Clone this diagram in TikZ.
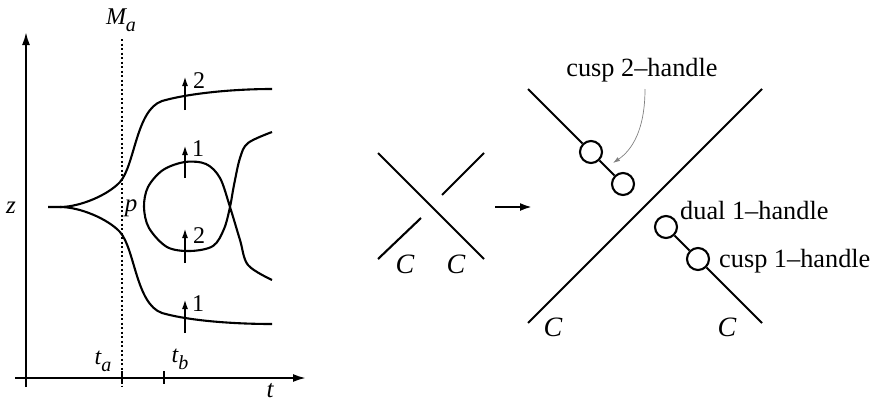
\documentclass[tikz,border=0pt]{standalone}
\usepackage{fontspec}
\setmainfont{Liberation Serif}
\usetikzlibrary{arrows.meta}
\newcommand\lowsub[2]{{\itshape #1}\raisebox{-0.28em}{\fontsize{20}{20}\selectfont\itshape #2}}
\tikzset{
  curve/.style={line width=2.1pt},
  axis/.style={line width=2.1pt,-{Latex[length=13pt,width=8pt]}},
  uparrow/.style={line width=1.9pt,-{Latex[length=10pt,width=6pt]}},
  lab/.style={inner sep=0pt,font=\fontsize{24}{24}\selectfont},
  ilab/.style={inner sep=0pt,font=\fontsize{25}{25}\selectfont\itshape},
  big/.style={inner sep=0pt,font=\fontsize{26.3}{26}\selectfont},
  clab/.style={inner sep=0pt,font=\fontsize{28}{28}\selectfont\itshape},
  hc/.style={circle,draw,line width=2.1pt,fill=white,minimum size=22pt,inner sep=0pt},
}
\begin{document}
\begin{tikzpicture}[x=1pt,y=-1pt]
\useasboundingbox (0,0) rectangle (875,402);
% ---------- left panel ----------
\coordinate (zb) at (26,387); \coordinate (zt) at (26,32);
\coordinate (tl) at (15,378); \coordinate (tr) at (306,378);
\draw[axis] (zb) -- (zt);
\draw[axis] (tl) -- (tr);
\coordinate (da) at (122,39); \coordinate (db) at (122,387);
\draw[line width=2pt,dash pattern=on 2pt off 2.5pt] (da) -- (db);
\coordinate (tb1) at (164,371); \coordinate (tb2) at (164,384);
\draw[line width=1.6pt] (tb1) -- (tb2);
\coordinate (ta1) at (122,371); \coordinate (ta2) at (122,384);
\draw[line width=1.6pt] (ta1) -- (ta2);
\node[lab] (Ma) at (121,20) {\lowsub{M}{a}};
\node[lab] (ta) at (103,361) {\lowsub{t}{a}};
\node[lab] (tbl) at (180,359) {\lowsub{t}{b}};
\node[ilab] (t) at (270,391) {t};
\node[ilab] (z) at (11,208) {z};
\node[ilab] (p) at (131,208) {p};
% cusp branches
\draw[curve] (48,207) -- (60,207) .. controls (80,207) and (108,195) .. (120,182)
  .. controls (135,165) and (136,110) .. (162,101) .. controls (190,93) and (235,89) .. (272,89);
\draw[curve] (60,207) .. controls (80,207) and (108,219) .. (120,232)
  .. controls (135,249) and (136,304) .. (162,313) .. controls (190,321) and (235,324) .. (272,324);
% swallowtail loop
\draw[curve] plot[smooth,tension=0.55] coordinates {(272,132) (248,143) (240,158) (234,185) (230,207) (224,229) (213,246) (190,251) (167,247) (149,228) (144,207) (148,187) (163,170) (185,162) (206,164) (220,178) (230,207) (240,240) (248,265) (272,280)};
% arrows
\coordinate (a1s) at (185,110); \coordinate (a1e) at (185,76);
\coordinate (a2s) at (185,178); \coordinate (a2e) at (185,145);
\coordinate (a3s) at (185,263); \coordinate (a3e) at (185,228);
\coordinate (a4s) at (185,333); \coordinate (a4e) at (185,299);
\draw[uparrow] (a1s) -- (a1e);
\draw[uparrow] (a2s) -- (a2e);
\draw[uparrow] (a3s) -- (a3e);
\draw[uparrow] (a4s) -- (a4e);
\node[lab] (n1) at (199,81) {2};
\node[lab] (n2) at (198,149) {1};
\node[lab] (n3) at (199,236) {2};
\node[lab] (n4) at (198,304) {1};
% ---------- small crossing ----------
\coordinate (s1) at (378,153); \coordinate (s2) at (484,259);
\coordinate (s3) at (484,153); \coordinate (s4) at (442,195);
\coordinate (s5) at (421,218); \coordinate (s6) at (378,259);
\draw[curve] (s1) -- (s2);
\draw[curve] (s3) -- (s4);
\draw[curve] (s5) -- (s6);
\node[clab] (C1) at (405,264) {C};
\node[clab] (C2) at (456,264) {C};
\coordinate (ar1) at (495,207); \coordinate (ar2) at (532,207);
\draw[line width=2.1pt,-{Latex[length=12pt,width=8pt]}] (ar1) -- (ar2);
% ---------- big picture ----------
\coordinate (L1) at (528,323); \coordinate (L2) at (762,89);
\draw[curve] (L1) -- (L2);
\coordinate (ul) at (528,89);
\coordinate (lr) at (762,323);
\node[hc] (c1) at (591,152) {};
\node[hc] (c2) at (623,184) {};
\node[hc] (c3) at (666,227) {};
\node[hc] (c4) at (698,259) {};
\draw[curve] (ul) -- (c1);
\draw[curve] (c1) -- (c2);
\draw[curve] (c3) -- (c4);
\draw[curve] (c4) -- (lr);
\node[clab] (C3) at (553,327) {C};
\node[clab] (C4) at (727,327) {C};
\node[big] (h2) at (642,70) {cusp 2–handle};
\node[big,anchor=west] (d1) at (680,210) {dual 1–handle};
\node[big,anchor=west] (h1) at (719,261) {cusp 1–handle};
\coordinate (gs) at (645,89);
\coordinate (ge) at (613,163);
\draw[gray,line width=0.7pt,-{Latex[length=7pt,width=4.5pt]}] (gs) .. controls (645,130) and (632,150) .. (ge);
\end{tikzpicture}
\end{document}
